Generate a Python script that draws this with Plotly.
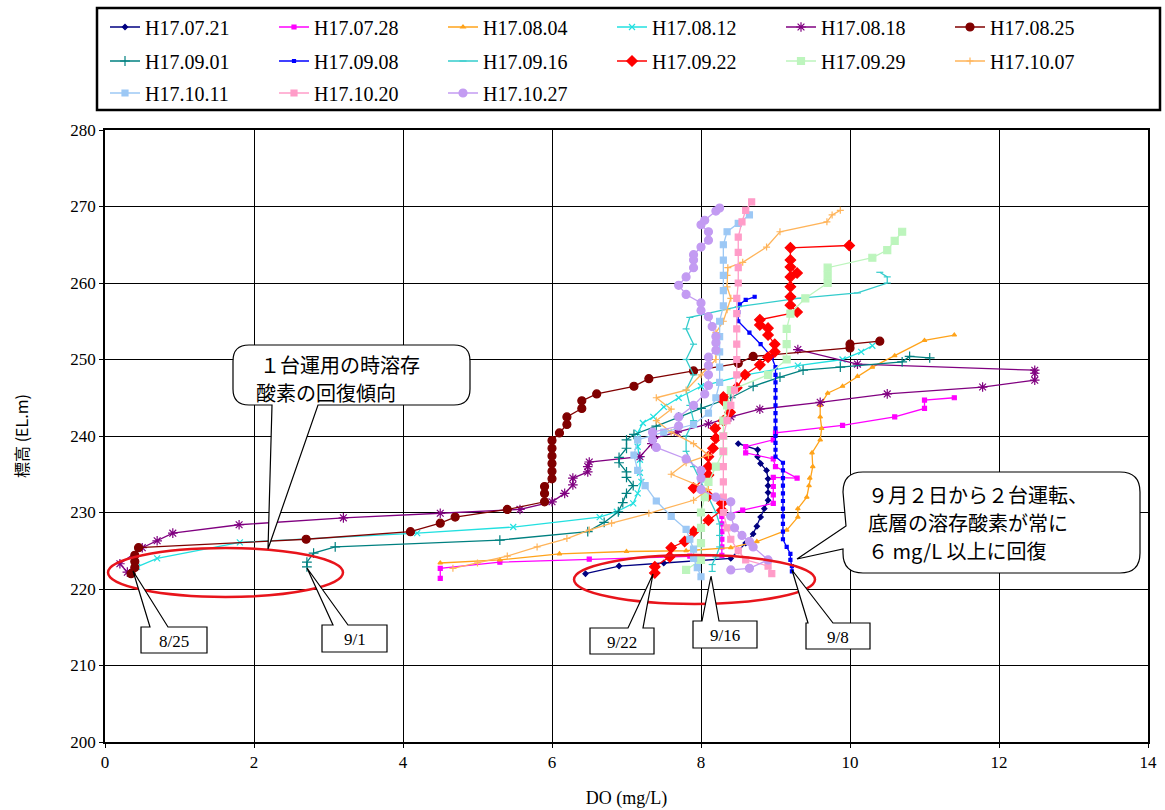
import plotly.graph_objects as go

# ---------------- data (DO mg/L, elevation EL.m) ----------------
series_names = ["H17.07.21", "H17.07.28", "H17.08.04", "H17.08.12", "H17.08.18", "H17.08.25",
                "H17.09.01", "H17.09.08", "H17.09.16", "H17.09.22", "H17.09.29", "H17.10.07",
                "H17.10.11", "H17.10.20", "H17.10.27"]

do_0721 = [6.45, 6.9, 7.5, 8.0, 8.4, 8.5, 8.6, 8.7, 8.75, 8.8, 8.85, 8.9, 8.9, 8.9, 8.9, 8.88, 8.8, 8.76, 8.76, 8.5]
el_0721 = [222.0, 223.0, 223.4, 223.7, 224.0, 225.0, 226.0, 227.2, 228.2, 229.4, 230.5, 231.6, 232.6, 233.5, 234.4, 235.5, 236.4, 237.3, 238.2, 239.0]

do_0728 = [4.5, 4.5, 5.3, 6.5, 7.85, 8.28, 8.28, 8.28, 8.28, 8.28, 8.28, 8.56, 8.97, 8.97, 8.97, 8.97, 9.29, 9.0, 8.97, 8.6, 8.6, 8.97, 9.0, 9.9, 10.6, 11.0, 11.0, 11.4]
el_0728 = [221.4, 222.7, 223.5, 223.9, 224.3, 224.4, 225.5, 226.5, 227.5, 228.5, 229.5, 230.3, 231.2, 232.3, 233.4, 234.6, 234.5, 236.0, 237.0, 237.8, 238.6, 239.5, 240.4, 241.4, 242.5, 243.6, 244.7, 245.0]

do_0804 = [4.5, 5.3, 6.1, 7.0, 7.8, 8.4, 8.75, 9.15, 9.3, 9.3, 9.42, 9.45, 9.46, 9.5, 9.49, 9.6, 9.62, 9.6, 9.6, 9.7, 9.9, 10.1, 10.3, 10.6, 11.0, 11.4]
el_0804 = [223.4, 223.8, 224.6, 224.9, 225.0, 225.4, 226.2, 227.7, 229.4, 230.5, 232.0, 233.5, 234.5, 236.0, 237.8, 239.5, 241.0, 242.5, 244.0, 245.6, 246.5, 247.8, 249.0, 250.5, 252.5, 253.2]

do_0812 = [0.43, 0.7, 1.81, 4.19, 5.48, 6.64, 6.87, 7.09, 7.15, 7.2, 7.18, 7.18, 7.15, 7.15, 7.22, 7.36, 7.5, 7.7, 8.0, 8.6, 9.3, 9.9, 10.15, 10.3]
el_0812 = [222.9, 224.0, 226.1, 227.3, 228.1, 229.4, 230.1, 231.2, 232.5, 234.0, 235.2, 236.9, 238.6, 240.4, 241.7, 242.5, 243.8, 245.0, 246.5, 248.0, 249.2, 250.0, 251.0, 251.8]

do_0818 = [0.3, 0.2, 0.5, 0.7, 0.91, 1.8, 3.2, 4.5, 5.57, 6.0, 6.17, 6.28, 6.28, 6.48, 6.48, 6.5, 7.18, 7.34, 7.36, 7.68, 8.1, 8.4, 8.79, 9.6, 10.5, 11.78, 12.48, 12.48, 12.48, 10.1, 9.3]
el_0818 = [222.2, 223.3, 225.4, 226.3, 227.3, 228.4, 229.3, 229.9, 230.4, 231.4, 232.5, 233.6, 234.5, 235.3, 236.0, 236.6, 237.3, 239.0, 239.7, 240.5, 241.6, 242.5, 243.5, 244.4, 245.5, 246.4, 247.3, 248.2, 248.6, 249.4, 251.3]

do_0825 = [0.35, 0.4, 0.4, 0.4, 0.45, 2.7, 4.1, 4.5, 4.7, 5.4, 5.9, 5.9, 5.9, 6.0, 6.0, 6.0, 6.0, 6.0, 6.0, 6.1, 6.2, 6.2, 6.4, 6.4, 6.6, 7.1, 7.3, 7.9, 8.5, 8.7, 10.0, 10.0, 10.4]
el_0825 = [222.0, 222.8, 223.6, 224.4, 225.4, 226.5, 227.5, 228.6, 229.4, 230.4, 231.4, 232.5, 233.4, 234.4, 235.4, 236.4, 237.4, 238.4, 239.4, 240.4, 241.5, 242.5, 243.6, 244.6, 245.5, 246.5, 247.5, 248.5, 249.5, 250.4, 251.5, 252.0, 252.4]

do_0901 = [2.71, 2.71, 2.8, 3.09, 5.3, 6.48, 6.7, 6.89, 6.95, 7.0, 7.09, 7.0, 7.0, 6.9, 6.9, 7.0, 7.0, 7.1, 7.4, 7.7, 8.0, 8.4, 8.7, 9.06, 9.37, 9.87, 10.7, 10.8, 11.07]
el_0901 = [222.9, 223.5, 224.7, 225.5, 226.4, 227.5, 228.7, 230.1, 231.3, 232.5, 233.5, 234.6, 235.3, 236.5, 237.2, 238.4, 239.5, 240.2, 241.3, 242.5, 243.6, 245.0, 246.5, 247.7, 248.6, 249.0, 249.7, 250.4, 250.2]

do_0908 = [9.22, 9.22, 9.2, 9.2, 9.15, 9.1, 9.1, 9.1, 9.1, 9.1, 9.1, 9.1, 9.1, 9.1, 9.1, 9.1, 9.0, 9.0, 9.0, 9.0, 9.0, 9.0, 9.0, 9.0, 9.0, 9.0, 9.0, 9.0, 9.0, 8.95, 8.8, 8.65, 8.5, 8.5, 8.52, 8.6, 8.72]
el_0908 = [222.3, 223.0, 223.8, 224.6, 225.5, 226.5, 227.5, 228.5, 229.5, 230.5, 231.5, 232.5, 233.5, 234.5, 235.5, 236.5, 237.3, 238.2, 239.1, 240.0, 241.0, 242.0, 243.0, 244.0, 245.0, 246.0, 247.0, 248.0, 249.0, 250.3, 252.0, 253.5, 255.0, 256.2, 257.2, 257.8, 258.2]

do_0916 = [8.15, 8.15, 8.2, 8.25, 8.25, 8.25, 8.2, 8.1, 8.0, 7.9, 7.8, 7.8, 7.9, 7.85, 7.8, 7.9, 7.8, 7.9, 7.8, 7.85, 8.5, 9.3, 10.1, 10.5, 10.5, 10.4]
el_0916 = [222.3, 223.2, 224.2, 225.5, 227.0, 228.5, 230.0, 232.0, 234.0, 236.0, 238.0, 240.0, 242.0, 244.0, 246.0, 248.0, 250.0, 252.0, 254.0, 255.5, 256.9, 258.0, 258.7, 260.0, 260.8, 261.4]

do_0922 = [7.38, 7.38, 7.58, 7.6, 7.78, 7.9, 8.1, 8.28, 8.28, 8.1, 7.9, 8.1, 8.1, 8.1, 8.16, 8.2, 8.19, 8.3, 8.39, 8.3, 8.3, 8.48, 8.59, 8.79, 8.9, 8.99, 8.99, 8.9, 8.9, 8.79, 8.79, 9.29, 9.2, 9.2, 9.2, 9.2, 9.29, 9.2, 9.2, 9.2, 9.99]
el_0922 = [222.1, 222.9, 224.2, 225.4, 226.2, 227.5, 229.0, 230.3, 231.2, 232.2, 233.2, 234.9, 236.0, 237.3, 238.4, 239.7, 241.0, 242.0, 243.1, 244.6, 245.1, 246.3, 248.0, 249.3, 250.3, 251.0, 252.0, 253.2, 254.1, 254.5, 255.2, 256.2, 257.1, 258.2, 259.5, 260.8, 261.3, 262.1, 263.0, 264.6, 264.9]

do_0929 = [7.8, 8.0, 8.0, 8.0, 8.0, 8.05, 8.1, 8.2, 8.3, 8.3, 8.3, 8.35, 8.4, 8.9, 9.15, 9.15, 9.15, 9.2, 9.4, 9.7, 9.7, 9.7, 10.3, 10.5, 10.6, 10.7]
el_0929 = [222.5, 223.8, 226.0, 228.0, 230.0, 232.0, 234.0, 236.0, 238.0, 240.0, 242.0, 244.0, 246.0, 248.0, 250.0, 252.0, 254.0, 256.0, 258.0, 260.0, 261.0, 262.0, 263.3, 264.3, 265.5, 266.7]

do_1007 = [4.67, 5.0, 5.4, 5.8, 6.2, 6.5, 6.8, 7.3, 7.9, 8.1, 7.6, 7.8, 8.1, 7.9, 7.6, 7.4, 7.6, 7.4, 7.8, 8.0, 8.2, 8.2, 8.2, 8.3, 8.35, 8.4, 8.35, 8.35, 8.36, 8.56, 8.88, 9.06, 9.69, 9.76, 9.87]
el_1007 = [222.7, 223.4, 224.3, 225.5, 226.6, 227.7, 228.6, 229.9, 231.6, 233.0, 235.0, 236.5, 237.5, 239.0, 240.5, 242.0, 243.5, 245.0, 246.0, 248.0, 250.0, 252.0, 253.5, 255.0, 256.5, 258.0, 259.5, 261.0, 262.0, 262.7, 264.7, 266.7, 268.0, 268.9, 269.5]

do_1011 = [8.0, 7.95, 7.9, 7.9, 7.85, 7.8, 7.6, 7.4, 7.25, 7.15, 7.1, 7.15, 7.5, 7.9, 8.1, 8.2, 8.25, 8.25, 8.25, 8.25, 8.25, 8.3, 8.3, 8.3, 8.3, 8.3, 8.35, 8.5, 8.65]
el_1011 = [221.6, 222.8, 224.0, 225.2, 226.5, 227.8, 229.5, 231.5, 233.5, 235.5, 237.5, 239.5, 240.5, 241.5, 243.0, 245.0, 247.0, 249.0, 251.0, 253.0, 255.0, 257.0, 259.0, 261.0, 263.0, 265.0, 266.7, 267.8, 268.9]

do_1020 = [8.95, 8.9, 8.6, 8.5, 8.4, 8.35, 8.3, 8.3, 8.3, 8.3, 8.3, 8.3, 8.35, 8.4, 8.45, 8.48, 8.48, 8.48, 8.48, 8.48, 8.48, 8.5, 8.5, 8.5, 8.5, 8.55, 8.6, 8.68]
el_1020 = [222.0, 223.0, 223.8, 225.0, 226.5, 228.0, 230.0, 232.0, 234.0, 236.0, 238.0, 240.0, 242.0, 244.0, 246.0, 248.0, 250.0, 252.0, 254.0, 256.0, 258.0, 260.0, 262.0, 264.0, 266.0, 268.0, 269.5, 270.6]

do_1027 = [8.4, 8.65, 8.9, 8.7, 8.65, 8.55, 8.45, 8.4, 8.4, 8.2, 8.0, 8.0, 8.0, 7.8, 7.4, 7.35, 7.35, 7.7, 7.7, 7.9, 8.05, 8.1, 8.1, 8.1, 8.1, 8.2, 8.2, 8.2, 8.15, 8.1, 8.0, 8.0, 7.8, 7.7, 7.8, 7.9, 7.9, 7.9, 8.0, 8.1, 8.1, 8.0, 8.05, 8.2, 8.25]
el_1027 = [222.5, 222.7, 223.8, 225.5, 226.2, 227.0, 228.0, 229.5, 231.4, 232.0, 233.0, 234.5, 235.5, 237.0, 238.5, 239.5, 240.5, 241.3, 242.5, 244.0, 245.5, 246.6, 248.0, 249.2, 250.3, 251.2, 252.2, 253.0, 254.3, 255.6, 256.4, 257.4, 258.5, 259.7, 260.8, 262.0, 263.0, 263.7, 264.7, 265.6, 266.7, 267.6, 268.2, 269.4, 269.8]

series_do = [do_0721, do_0728, do_0804, do_0812, do_0818, do_0825, do_0901, do_0908,
             do_0916, do_0922, do_0929, do_1007, do_1011, do_1020, do_1027]
series_el = [el_0721, el_0728, el_0804, el_0812, el_0818, el_0825, el_0901, el_0908,
             el_0916, el_0922, el_0929, el_1007, el_1011, el_1020, el_1027]

x_ticks = [0, 2, 4, 6, 8, 10, 12, 14]
y_ticks = [200, 210, 220, 230, 240, 250, 260, 270, 280]

# ---------------- styles ----------------
styles = [
    dict(color="#000080", symbol="diamond", size=4),
    dict(color="#FF00FF", symbol="square", size=4),
    dict(color="#FFA31A", symbol="triangle-up", size=4),
    dict(color="#22E0E0", symbol="x-thin-open", size=6),
    dict(color="#800080", symbol="asterisk-open", size=8),
    dict(color="#800000", symbol="circle", size=8),
    dict(color="#008080", symbol="cross-thin-open", size=7),
    dict(color="#0000FF", symbol="square", size=3),
    dict(color="#33CCCC", symbol="line-ew-open", size=5),
    dict(color="#FF0000", symbol="diamond", size=8),
    dict(color="#BDF5BD", symbol="square", size=7),
    dict(color="#FFB45A", symbol="cross-thin-open", size=5),
    dict(color="#9CC8F5", symbol="square", size=6),
    dict(color="#FF9CC8", symbol="square", size=6),
    dict(color="#C39BF2", symbol="circle", size=8),
]

FIG_W, FIG_H = 1165, 810
PL, PR, PT, PB = 105, 1148, 130, 742


def P(px, py):
    return (px - PL) / (PR - PL), (PB - py) / (PB - PT)


def path_from(segs, close=True):
    out = []
    for s in segs:
        cmd = s[0]
        pts = s[1:]
        coords = []
        for i in range(0, len(pts), 2):
            x, y = P(pts[i], pts[i + 1])
            coords.append(f"{x:.5f},{y:.5f}")
        out.append(cmd + " " + " ".join(coords))
    return " ".join(out) + (" Z" if close else "")


legend_ids = ["legend"] * 6 + ["legend2"] * 6 + ["legend3"] * 3

fig = go.Figure()
for name, xs, ys, st, lg in zip(series_names, series_do, series_el, styles, legend_ids):
    fig.add_trace(go.Scatter(
        x=xs, y=ys, name=name, mode="lines+markers", legend=lg,
        line=dict(color=st["color"], width=1.3),
        marker=dict(symbol=st["symbol"], size=st["size"], color=st["color"],
                    line=dict(color=st["color"], width=1.2)),
    ))

shapes = []
# legend frame
fx0, fy0 = P(97, 110)
fx1, fy1 = P(1160, 8)
shapes.append(dict(type="rect", xref="paper", yref="paper", x0=fx0, y0=fy0, x1=fx1, y1=fy1,
                   line=dict(color="black", width=2.5), fillcolor="rgba(0,0,0,0)", layer="above"))

# red ellipses
for (x0, y0, x1, y1) in [(108, 548, 343, 597), (574, 555, 815, 604)]:
    a0, b0 = P(x0, y1)
    a1, b1 = P(x1, y0)
    shapes.append(dict(type="circle", xref="paper", yref="paper", x0=a0, y0=b0, x1=a1, y1=b1,
                       line=dict(color="#E8141B", width=2.5), layer="above"))

# callout 1 (rounded box with wedge at bottom)
L, T, R, B, r = 233, 345, 470, 405, 16
c1 = [("M", L + r, T), ("L", R - r, T), ("Q", R, T, R, T + r), ("L", R, B - r), ("Q", R, B, R - r, B),
      ("L", 318, B), ("L", 268, 549), ("L", 272, B), ("L", L + r, B), ("Q", L, B, L, B - r),
      ("L", L, T + r), ("Q", L, T, L + r, T)]
shapes.append(dict(type="path", xref="paper", yref="paper", path=path_from(c1),
                   fillcolor="white", line=dict(color="black", width=1.2), layer="above"))

# callout 2 (rounded box with wedge on left)
L, T, R, B, r = 843, 472, 1140, 573, 20
c2 = [("M", L + r, T), ("L", R - r, T), ("Q", R, T, R, T + r), ("L", R, B - r), ("Q", R, B, R - r, B),
      ("L", L + r, B), ("Q", L, B, L, B - r), ("L", L, 549), ("L", 797, 559), ("L", L + 3, 526),
      ("L", L, T + r), ("Q", L, T, L + r, T)]
shapes.append(dict(type="path", xref="paper", yref="paper", path=path_from(c2),
                   fillcolor="white", line=dict(color="black", width=1.2), layer="above"))

# small date labels: box with wedge on top
small_boxes = [
    # text, left, top, right, bottom, wedge base x1, x2, tip x, tip y
    ("8/25", 141, 627, 207, 653, 150, 168, 133, 571),
    ("9/1", 322, 625, 387, 652, 333, 348, 307, 568),
    ("9/22", 590, 628, 654, 654, 628, 643, 653, 574),
    ("9/16", 693, 621, 757, 648, 702, 719, 711, 576),
    ("9/8", 806, 623, 870, 649, 808, 833, 792, 570),
]
annotations = []
for txt, l, t, rr, b, w1, w2, tx, ty in small_boxes:
    segs = [("M", l, t), ("L", w1, t), ("L", tx, ty), ("L", w2, t), ("L", rr, t), ("L", rr, b), ("L", l, b)]
    shapes.append(dict(type="path", xref="paper", yref="paper", path=path_from(segs),
                       fillcolor="white", line=dict(color="black", width=1.2), layer="above"))
    cx, cy = P((l + rr) / 2, (t + b) / 2 + 1)
    annotations.append(dict(xref="paper", yref="paper", x=cx, y=cy, text=txt, showarrow=False,
                            xanchor="center", yanchor="middle",
                            font=dict(family="Liberation Serif", size=17, color="black")))

cjk = "Noto Sans CJK JP"
callout_lines = [
    ("１台運用の時溶存", 258, 364),
    ("酸素の回復傾向", 254, 392),
    ("９月２日から２台運転、", 866, 494),
    ("底層の溶存酸素が常に", 866, 522),
    ("６ mg/L 以上に回復", 866, 550),
]
for txt, px, py in callout_lines:
    ax, ay = P(px, py)
    annotations.append(dict(xref="paper", yref="paper", x=ax, y=ay, text=txt, showarrow=False,
                            xanchor="left", yanchor="middle",
                            font=dict(family=cjk, size=20, color="black")))

lx, _ = P(105, 0)
legend_common = dict(orientation="h", x=lx, xanchor="left", yanchor="middle",
                     borderwidth=0, bgcolor="rgba(0,0,0,0)",
                     font=dict(family="Liberation Serif", size=20, color="black"),
                     entrywidth=124, entrywidthmode="pixels", itemwidth=30,
                     traceorder="normal")
_, ly1 = P(0, 27)
_, ly2 = P(0, 61)
_, ly3 = P(0, 93)

fig.update_layout(
    width=FIG_W, height=FIG_H,
    margin=dict(l=PL, r=FIG_W - PR, t=PT, b=FIG_H - PB, autoexpand=False),
    paper_bgcolor="white", plot_bgcolor="white",
    showlegend=True,
    legend=dict(legend_common, y=ly1),
    legend2=dict(legend_common, y=ly2),
    legend3=dict(legend_common, y=ly3),
    xaxis=dict(range=[0, 14], tickvals=x_ticks, showgrid=True, gridcolor="black", gridwidth=1,
               showline=True, linecolor="black", linewidth=1.5, mirror=True, zeroline=False,
               ticks="outside", ticklen=4, tickcolor="black", automargin=False,
               tickfont=dict(family="Liberation Serif", size=17, color="black"),
               title=dict(text="DO (mg/L)", standoff=20,
                          font=dict(family="Liberation Serif", size=18, color="black"))),
    yaxis=dict(range=[200, 280], tickvals=y_ticks, showgrid=True, gridcolor="black", gridwidth=1,
               showline=True, linecolor="black", linewidth=1.5, mirror=True, zeroline=False,
               ticks="outside", ticklen=4, tickcolor="black", automargin=False,
               tickfont=dict(family="Liberation Serif", size=17, color="black"),
               title=dict(text="標高 (EL.m)", standoff=38,
                          font=dict(family=cjk, size=16, color="black"))),
    shapes=shapes,
    annotations=annotations,
)

fig.write_html("out.html", config={"displayModeBar": False},
               post_script="document.body.style.margin='0';")
